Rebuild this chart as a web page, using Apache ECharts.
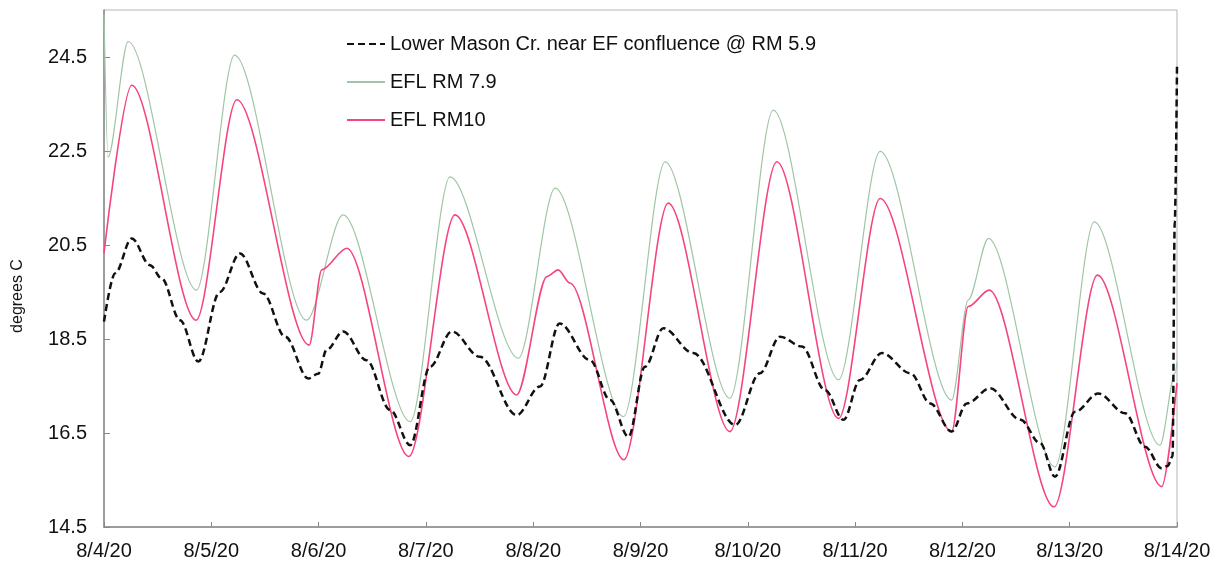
<!DOCTYPE html>
<html>
<head>
<meta charset="utf-8">
<script src="https://cdn.jsdelivr.net/npm/echarts@6/dist/echarts.min.js"></script>
<style>html,body{margin:0;padding:0;background:#fff;}#chart{width:1220px;height:562px;}</style>
</head>
<body>
<div id="chart"></div>
<script>
// x tick labels (one per day, x measured in hours from 8/4/20 00:00)
var xLabels = ['8/4/20','8/5/20','8/6/20','8/7/20','8/8/20','8/9/20','8/10/20','8/11/20','8/12/20','8/13/20','8/14/20'];
var yTicks = [14.5, 16.5, 18.5, 20.5, 22.5, 24.5];

var seriesNames = ['Lower Mason Cr. near EF confluence @ RM 5.9', 'EFL RM 7.9', 'EFL RM10'];

// Lower Mason Cr. near EF confluence @ RM 5.9
var masonHours = [0,2.5,6.2,10.3,12.9,17,21.1,25.9,30.4,35.6,40.5,45.7,47.9,49.8,53.5,58.7,64,68.5,72.9,77.8,84.1,92.3,97.5,101.9,108.7,113.2,117.3,121,125.1,131.8,141.2,146.7,151.2,156.1,161.3,165.4,169.1,174,180.4,184.8,189.6,193,198.2,205,209.4,212.7,217.2,222.4,228.4,232.8,236.6,237.9,239.0,239.5,240];
var masonVals  = [18.87,19.9,20.64,20.07,19.79,18.9,18.02,19.5,20.32,19.47,18.55,17.66,17.76,18.27,18.66,18.05,16.99,16.24,17.91,18.66,18.12,16.88,17.49,18.83,18.05,17.2,16.42,17.91,18.73,18.2,16.67,17.77,18.55,18.34,17.41,16.78,17.63,18.2,17.77,17.13,16.53,17.13,17.45,16.78,16.28,15.57,16.95,17.34,16.92,16.21,15.75,15.8,16.0,21.0,24.3];

// EFL RM 7.9
var rm79Hours = [0,0.9,5.4,20.7,29.2,45.3,53.5,68.5,77.4,92.7,100.9,116.2,125.5,140,149.7,164.3,173.6,189.6,193.3,197.8,212.7,221.5,236.2,239.6,240];
var rm79Vals  = [25.4,22.37,24.83,19.54,24.54,18.9,21.14,16.74,21.95,18.09,21.71,16.85,22.27,17.24,23.37,17.63,22.49,17.2,19.33,20.64,15.78,20.99,16.24,17.78,18.0];

// EFL RM10
var rm10Hours = [0,6.2,20.6,29.7,45.9,48.7,54.3,68.2,78.5,92.3,99.1,101.6,104.2,116.3,126.2,140,150.5,164.3,173.6,189.6,193.3,198,212.5,222.2,236.6,240];
var rm10Vals  = [20.33,23.9,18.9,23.59,18.37,19.97,20.43,16.0,21.14,17.31,19.83,19.97,19.69,15.93,21.39,16.53,22.27,16.81,21.49,16.53,19.19,19.54,14.93,19.86,15.36,17.56];

function pairs(hs, vs) { return hs.map(function (h, i) { return [h, vs[i]]; }); }

var FONT = "'Liberation Sans', Arial, sans-serif";
var chart = echarts.init(document.getElementById('chart'), null, { renderer: 'canvas' });
chart.setOption({
  animation: false,
  backgroundColor: '#fff',
  grid: { left: 104, right: 43, top: 10, bottom: 35, show: true, borderColor: '#b5b5b5', borderWidth: 1, backgroundColor: 'transparent' },
  legend: {
    orient: 'vertical', left: 341, top: 29,
    itemWidth: 38, itemHeight: 14, itemGap: 18,
    itemStyle: { opacity: 0 },
    textStyle: { fontSize: 20, color: '#111', fontFamily: FONT, lineHeight: 20 },
    data: seriesNames
  },
  graphic: [{
    type: 'text', x: 18, y: 296, rotation: Math.PI / 2,
    style: { text: 'degrees C', fontSize: 16, fontFamily: FONT, fill: '#111', textAlign: 'center', textVerticalAlign: 'middle' }
  }],
  xAxis: {
    type: 'value', min: 0, max: 240, interval: 24,
    axisLine: { show: true, lineStyle: { color: '#888', width: 1.5 } },
    axisTick: { show: true, inside: true, length: 5, lineStyle: { color: '#888' } },
    splitLine: { show: false },
    axisLabel: { fontSize: 20, color: '#111', fontFamily: FONT, margin: 14, showMinLabel: true, showMaxLabel: true,
      formatter: function (v) { return xLabels[Math.round(v / 24)]; } }
  },
  yAxis: {
    type: 'value', min: 14.5, max: 25.5,
    axisLine: { show: true, lineStyle: { color: '#888', width: 1.5 } },
    axisTick: { show: true, inside: true, length: 6, lineStyle: { color: '#888' }, customValues: yTicks },
    splitLine: { show: false },
    axisLabel: { fontSize: 20, color: '#111', fontFamily: FONT, margin: 17, customValues: yTicks,
      formatter: function (v) { return v.toFixed(1); } }
  },
  series: [
    { name: seriesNames[0], type: 'line', data: pairs(masonHours, masonVals), symbol: 'none', smooth: 0.35, smoothMonotone: 'x',
      lineStyle: { color: '#111', width: 2.5, type: [7, 4] }, itemStyle: { color: '#111' }, z: 3 },
    { name: seriesNames[1], type: 'line', data: pairs(rm79Hours, rm79Vals), symbol: 'none', smooth: 0.3, smoothMonotone: 'x',
      lineStyle: { color: '#9fc6a4', width: 1.2 }, itemStyle: { color: '#9fc6a4' }, z: 1 },
    { name: seriesNames[2], type: 'line', data: pairs(rm10Hours, rm10Vals), symbol: 'none', smooth: 0.3, smoothMonotone: 'x',
      lineStyle: { color: '#f5457c', width: 1.6 }, itemStyle: { color: '#f5457c' }, z: 2 }
  ]
});
</script>
</body>
</html>
